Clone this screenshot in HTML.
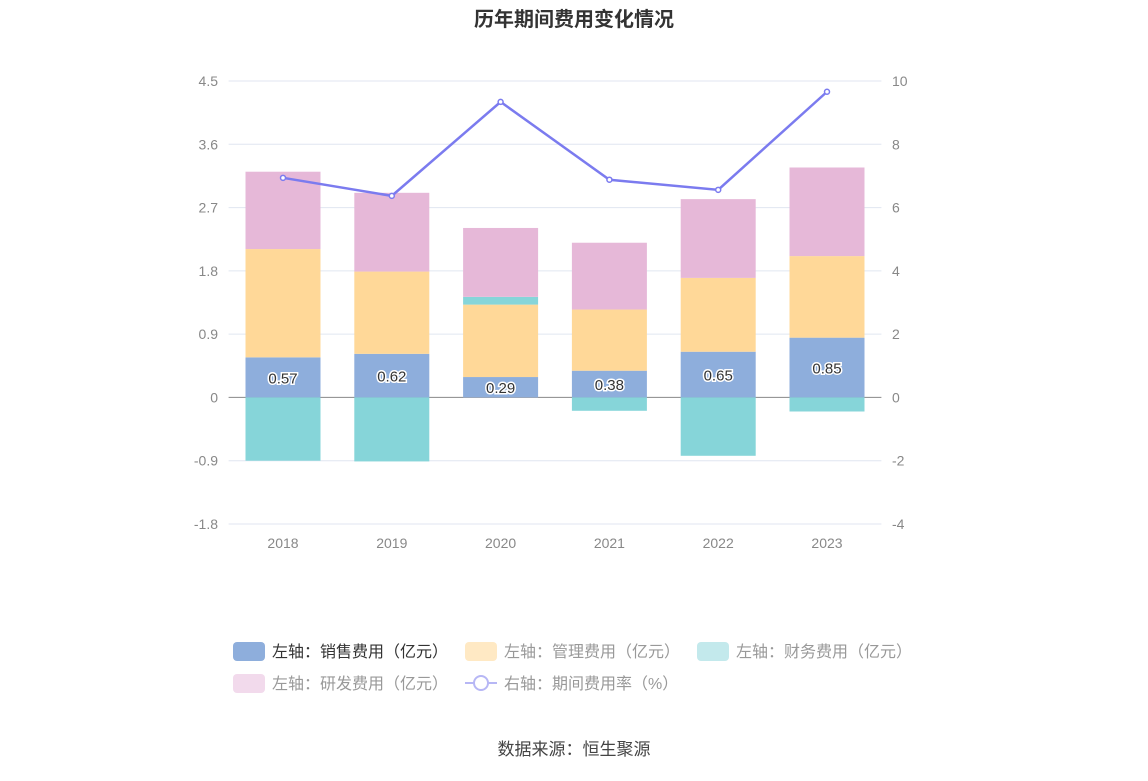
<!DOCTYPE html>
<html><head><meta charset="utf-8"><style>
body{margin:0;background:#fff;font-family:"Liberation Sans","Noto Sans CJK SC",sans-serif;}
svg text{font-family:"Liberation Sans","Noto Sans CJK SC",sans-serif;}
</style></head><body>
<svg id="c" width="1148" height="776"></svg>
<script>
const categories=["2018","2019","2020","2021","2022","2023"];
const sales=[0.57,0.62,0.29,0.38,0.65,0.85];
const mgmt=[1.54,1.17,1.03,0.87,1.05,1.16];
const fin=[-0.90,-0.91,0.11,-0.19,-0.83,-0.20];
const rd=[1.10,1.12,0.98,0.95,1.12,1.26];
const rate=[6.94,6.37,9.34,6.88,6.56,9.66];
const leftTicks=[-1.8,-0.9,0,0.9,1.8,2.7,3.6,4.5];
const rightTicks=[-4,-2,0,2,4,6,8,10];
const NS="http://www.w3.org/2000/svg";
const svg=document.getElementById('c');
function el(t,a,p){const e=document.createElementNS(NS,t);for(const k in a)e.setAttribute(k,a[k]);(p||svg).appendChild(e);return e;}
const plotTop=81,plotBot=524,L=228.6,R=881.4;
const yL=v=>plotTop+(4.5-v)/6.3*(plotBot-plotTop);
const yR=v=>plotTop+(10-v)/14*(plotBot-plotTop);
const step=(R-L)/categories.length;
const xC=i=>L+step*(i+0.5);
let t=el('text',{x:574,y:26,'text-anchor':'middle','font-size':20,'font-weight':'bold',fill:'#333'});t.textContent='历年期间费用变化情况';


leftTicks.forEach((v,i)=>{
  const y=yL(v);
  const g=el('line',{x1:L,x2:R,y1:y,y2:y,stroke:v===0?'#888':'#e0e6f1','stroke-width':1});
  
  
  const a=el('text',{x:218,y:y+5,'text-anchor':'end','font-size':14,fill:'#888'});a.textContent=String(v);
  
  
  const b=el('text',{x:892,y:y+5,'font-size':14,fill:'#888'});b.textContent=String(rightTicks[i]);
  
  
});
const series=[[sales,'#8eaedc','sales'],[mgmt,'#ffd898','mgmt'],[fin,'#86d5d9','finance'],[rd,'#e6b8d8','rd']];
categories.forEach((c,i)=>{
  let pos=0,neg=0;const x=xC(i)-37.5;
  series.forEach(([arr,col,nm])=>{
    const v=arr[i];let y0,y1;
    if(v>=0){y0=pos;y1=pos+v;pos=y1;}else{y0=neg;y1=neg+v;neg=y1;}
    const r=el('rect',{x:x,width:75,y:Math.min(yL(y0),yL(y1)),height:Math.abs(yL(y0)-yL(y1)),fill:col});
    
    
  });
  const lb=el('text',{x:xC(i),y:(yL(0)+yL(sales[i]))/2+6,'text-anchor':'middle','font-size':15,fill:'#333',stroke:'#fff','stroke-width':3,'paint-order':'stroke'});
  lb.textContent=sales[i].toFixed(2);
  
  
  const xl=el('text',{x:xC(i),y:548,'text-anchor':'middle','font-size':14,fill:'#888'});xl.textContent=c;
  
  
});
const pl=el('polyline',{points:rate.map((v,i)=>xC(i)+','+yR(v)).join(' '),fill:'none',stroke:'#7b7bef','stroke-width':2.5});


rate.forEach((v,i)=>{const p=el('circle',{cx:xC(i),cy:yR(v),r:2.5,fill:'#fff',stroke:'#7b7bef','stroke-width':1.5});


});
const leg=[[233,651,'#8eaedc','左轴：销售费用（亿元）','#333'],[465,651,'#ffe9c4','左轴：管理费用（亿元）','#999'],[697,651,'#c3e9ec','左轴：财务费用（亿元）','#999'],[233,683,'#f2daec','左轴：研发费用（亿元）','#999']];
leg.forEach(([x,y,c,s,tc])=>{
  const r=el('rect',{x:x,y:y-9,width:32,height:19,rx:4,fill:c});
  
  
  const tx=el('text',{x:x+39,y:y+6,'font-size':16,fill:tc});tx.textContent=s;
  
  
});
el('line',{x1:465,x2:497,y1:683,y2:683,stroke:'#b7b7f5','stroke-width':2});
const lc=el('circle',{cx:481,cy:683,r:7,fill:'#fff',stroke:'#b7b7f5','stroke-width':2});


let lt=el('text',{x:504,y:689,'font-size':16,fill:'#999'});lt.textContent='右轴：期间费用率（%）';


let src=el('text',{x:574,y:755,'text-anchor':'middle','font-size':17,fill:'#444'});src.textContent='数据来源：恒生聚源';


</script>
</body></html>
